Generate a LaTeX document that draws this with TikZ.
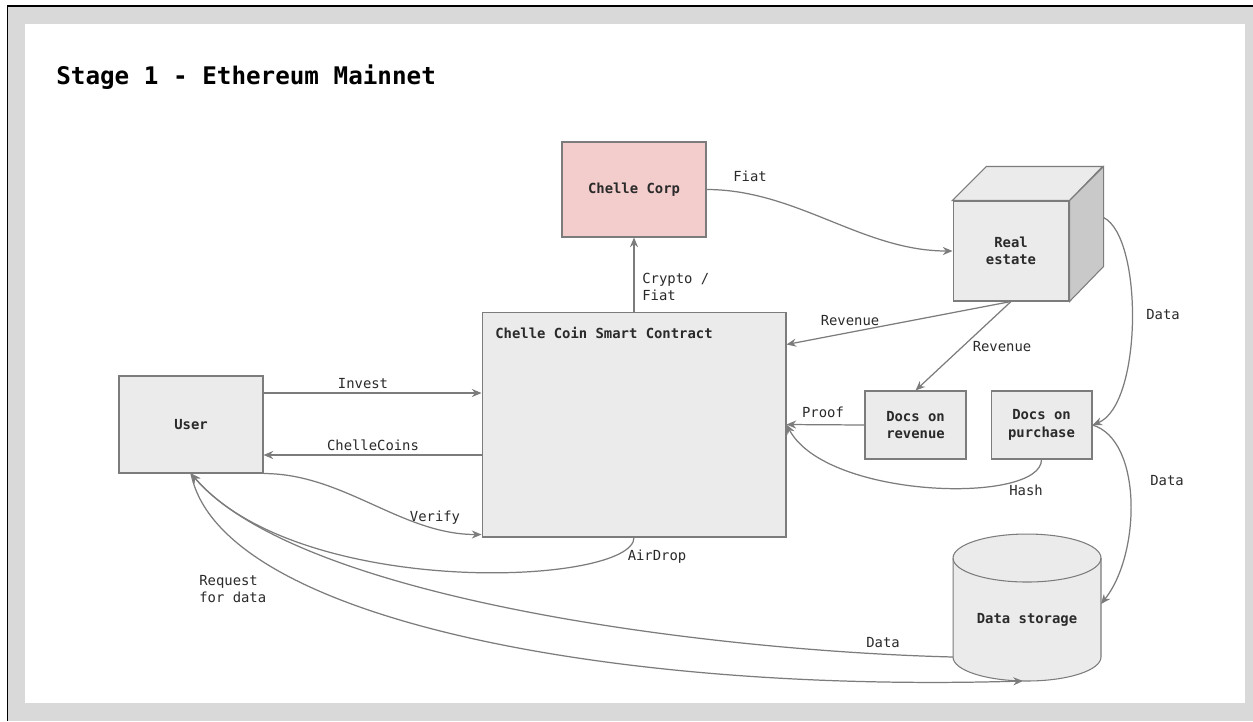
\documentclass[tikz,border=0pt]{standalone}
\usepackage{fontspec}
\setmonofont{DejaVu Sans Mono}
\usetikzlibrary{arrows.meta}

\definecolor{panelgrey}{HTML}{D9D9D9}
\definecolor{boxgrey}{HTML}{EBEBEB}
\definecolor{sidegrey}{HTML}{C9C9C9}
\definecolor{linegrey}{HTML}{7C7C7C}
\definecolor{corppink}{HTML}{F3CCCC}
\definecolor{inkgrey}{HTML}{2A2A2A}

\tikzset{
  box/.style={draw=linegrey, fill=boxgrey, line width=0.6pt, inner sep=0pt, align=center,
    font=\ttfamily\bfseries\fontsize{7.9}{10}\selectfont, text=inkgrey},
  btxt/.style={inner sep=0pt, align=center, font=\ttfamily\bfseries\fontsize{7.9}{10}\selectfont, text=inkgrey},
  lbl/.style={inner sep=0pt, align=left, font=\ttfamily\fontsize{7.9}{10}\selectfont, text=inkgrey},
  conn/.style={draw=linegrey, line width=0.7pt, -{Stealth[length=5.5pt,width=4.6pt]}},
}

\begin{document}
\begin{tikzpicture}[x=0.02cm, y=-0.02cm]
\useasboundingbox (0,0) rectangle (1253,721);
% page frame
\fill[panelgrey] (7,6) rectangle (1253,721);
\fill[white] (25,24) rectangle (1245,703);
\draw[black, line width=1.1pt] (7.5,721) -- (7.5,5.7) -- (1253,5.7);
\node[inner sep=0pt, anchor=west, font=\ttfamily\bfseries\fontsize{13.8}{16}\selectfont] (title) at (56,77) {Stage 1 - Ethereum Mainnet};

% boxes
\node[box, fill=corppink, minimum width=2.88cm, minimum height=1.9cm] (corp) at (634,189.5) {Chelle Corp};
\node[box, minimum width=6.08cm, minimum height=4.5cm] (contract) at (634,424.5) {};
\node[btxt, anchor=west] (ctitle) at (495,333) {Chelle Coin Smart Contract};
\node[box, minimum width=2.88cm, minimum height=1.94cm] (user) at (191,424.5) {User};
\node[box, minimum width=2.02cm, minimum height=1.36cm] (docrev) at (915.5,425) {Docs on\\revenue};
\node[box, minimum width=2.02cm, minimum height=1.36cm] (docpur) at (1041.5,425) {Docs on\\purchase};

% cube
\node[box, minimum width=2.32cm, minimum height=2cm] (estate) at (1011,251) {Real\\estate};
\filldraw[draw=linegrey, fill=boxgrey, line width=0.6pt] (estate.north west) -- ++(34,-34) -- ++(116,0) -- (estate.north east) -- cycle;
\filldraw[draw=linegrey, fill=sidegrey, line width=0.6pt] (estate.north east) -- ++(34,-34) -- ++(0,100) -- (estate.south east) -- cycle;
\coordinate (estback) at ([xshift=0.68cm, yshift=-0.34cm]estate.north east);

% cylinder
\coordinate (storec) at (1027,620);
\filldraw[draw=linegrey, fill=boxgrey, line width=0.6pt]
  ([xshift=-1.48cm, yshift=1.24cm]storec) -- ([xshift=-1.48cm, yshift=-0.74cm]storec)
  arc[start angle=180, end angle=360, x radius=1.48cm, y radius=0.48cm]
  -- ([xshift=1.48cm, yshift=1.24cm]storec)
  arc[start angle=0, end angle=180, x radius=1.48cm, y radius=0.48cm] -- cycle;
\draw[linegrey, line width=0.6pt] ([xshift=-1.48cm, yshift=1.24cm]storec)
  arc[start angle=180, end angle=360, x radius=1.48cm, y radius=0.48cm];
\node[btxt] (store) at (storec) {Data storage};
\coordinate (storeR) at ([xshift=1.48cm, yshift=0.32cm]storec);
\coordinate (storeL) at ([xshift=-1.48cm, yshift=-0.74cm]storec);
\coordinate (storeB) at ([xshift=-0.08cm, yshift=-1.22cm]storec);

% connectors
\draw[conn] (contract.north) -- (corp.south);
\draw[conn] (corp.east) .. controls +(90,0) and +(-90,0) .. (estate.west);
\draw[conn] (estate.south) -- ([yshift=1.6cm]contract.east);
\draw[conn] (estate.south) -- (docrev.north);
\draw[conn] (docrev.west) -- (contract.east);
\draw[conn] (docpur.south) .. controls +(0,45) and +(40,75) .. (contract.east);
\draw[conn] (estback) .. controls +(40,20) and +(50,-20) .. (docpur.east);
\draw[conn] (docpur.east) .. controls +(50,15) and +(40,-50) .. (storeR);
\draw[conn] ([yshift=0.63cm]user.east) -- ([yshift=0.63cm]contract.west);
\draw[conn] ([yshift=-0.61cm]contract.west) -- ([yshift=-0.61cm]user.east);
\draw[conn] (user.south east) .. controls +(80,0) and +(-80,0) .. ([yshift=0.06cm]contract.south west);
\draw[conn] (contract.south) .. controls +(0,48) and +(109,127) .. (user.south);
\draw[conn] (storeL) .. controls +(-238,-6) and +(109,127) .. (user.south);
\draw[conn] (user.south) .. controls +(29,147) and +(-406,12) .. (storeB);

% labels
\node[lbl] (lfiat) at (750,176) {Fiat};
\node[lbl, anchor=west] (lcrypto) at (642,287) {Crypto /\\Fiat};
\node[lbl] (lrev) at (850,321) {Revenue};
\node[lbl] (lrevdoc) at (1002,347) {Revenue};
\node[lbl] (ldataup) at (1163,315) {Data};
\node[lbl] (lproof) at (823,412) {Proof};
\node[lbl] (lhash) at (1026,490) {Hash};
\node[lbl] (ldatamid) at (1167,481) {Data};
\node[lbl] (ldatalow) at (883,643) {Data};
\node[lbl] (lair) at (657,557) {AirDrop};
\node[lbl, anchor=west] (lreq) at (199,589) {Request\\for data};
\node[lbl] (linvest) at (363,384) {Invest};
\node[lbl] (lcoins) at (373,445) {ChelleCoins};
\node[lbl] (lverify) at (435,518) {Verify};
\end{tikzpicture}
\end{document}
